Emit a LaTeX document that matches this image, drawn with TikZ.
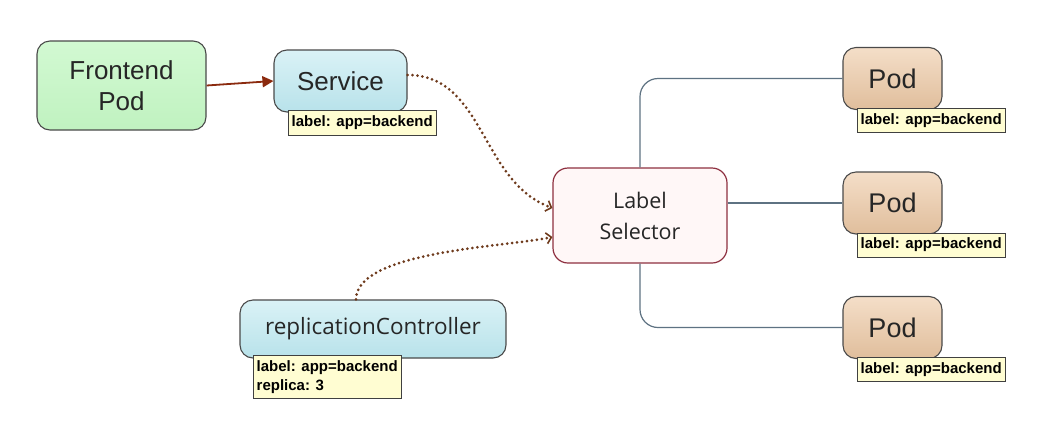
\documentclass[tikz,border=0pt]{standalone}
\usepackage{fontspec}
\setmainfont{Liberation Sans}
\newfontfamily\selfont{Open Sans}
\usetikzlibrary{arrows.meta,positioning}

\definecolor{wirecol}{HTML}{5E7282}
\definecolor{feedcol}{HTML}{8B2A0E}
\definecolor{dotcol}{HTML}{6E3A1C}
\definecolor{tagcol}{HTML}{FFFDD2}
\definecolor{selcol}{HTML}{8E3040}
\definecolor{edgecol}{HTML}{4A4A4A}

\tikzset{
  box/.style={draw=edgecol, line width=1.1pt, rounded corners=13pt, align=center, inner sep=2pt, text=black!85},
  frontbox/.style={box, top color={rgb,255:red,210;green,249;blue,210}, bottom color={rgb,255:red,192;green,242;blue,192}},
  svcbox/.style={box, top color={rgb,255:red,218;green,242;blue,246}, bottom color={rgb,255:red,184;green,226;blue,234}},
  podbox/.style={box, top color={rgb,255:red,244;green,222;blue,200}, bottom color={rgb,255:red,224;green,190;blue,156}},
  selbox/.style={draw=selcol, line width=1.2pt, rounded corners=15pt, fill=red!3!white, align=center, text=black!85},
  tag/.style={draw=black!75, fill=tagcol, anchor=north west, inner xsep=3.5pt, inner ysep=4pt, align=left,
    font=\bfseries\fontsize{15}{19}\selectfont},
  feed/.style={feedcol, line width=1.8pt, -{Triangle[length=11pt,width=11pt]}},
  sel/.style={dotcol, line width=3pt, line cap=round, dash pattern=on 0pt off 5pt,
    -{Straight Barb[length=5pt,width=11pt,line width=1.6pt,line cap=butt]}},
  wire/.style={wirecol, line width=1.2pt, rounded corners=18pt}
}

\begin{document}
\begin{tikzpicture}[x=1pt,y=-1pt]
\useasboundingbox[fill=white] (0,0) rectangle (1040,440);

% left side
\node[frontbox, minimum width=169pt, minimum height=89pt, font=\fontsize{26}{31}\selectfont] (front) at (121.5,85.5) {Frontend\\Pod};
\node[svcbox, minimum width=133pt, minimum height=62pt, font=\fontsize{26}{30}\selectfont] (svc) at (340.5,81) {Service};
\node[tag, minimum height=25pt] (svctag) at (288,110) {label: app=backend};

\node[svcbox, minimum width=266pt, minimum height=58pt, font=\selfont\fontsize{22.5}{26}\selectfont] (rc) at (373,329) {replicationController};
\node[tag, minimum height=43pt] (rctag) at (253,355) {label: app=backend\\replica: 3};

% selector
\node[selbox, minimum width=174pt, minimum height=95pt, font=\selfont\fontsize{21.5}{31}\selectfont] (ls) at (640,215.5) {Label\\Selector};

% pods
\foreach \n/\y in {1/78.5, 2/203, 3/327.5} {
  \node[podbox, minimum width=99pt, minimum height=62pt, font=\fontsize{27}{32}\selectfont] (pod\n) at (892.5,\y) {Pod};
  \node[tag, minimum height=24pt] (podtag\n) at (857,\y+29.5) {label: app=backend};
}

% connectors
\draw[feed] (front.east) -- (svc.west);
\draw[sel] ([yshift=6pt]svc.east) to[out=0, in=160] ([yshift=7.5pt]ls.west);
\draw[sel] ([xshift=-17pt]rc.north) to[out=90, in=192, looseness=0.6] ([yshift=-21.5pt]ls.west);

\draw[wire] (ls.north) |- (pod1.west);
\draw[wire] (ls.east |- pod2.west) -- (pod2.west);
\draw[wire] (ls.south) |- (pod3.west);
\end{tikzpicture}
\end{document}
